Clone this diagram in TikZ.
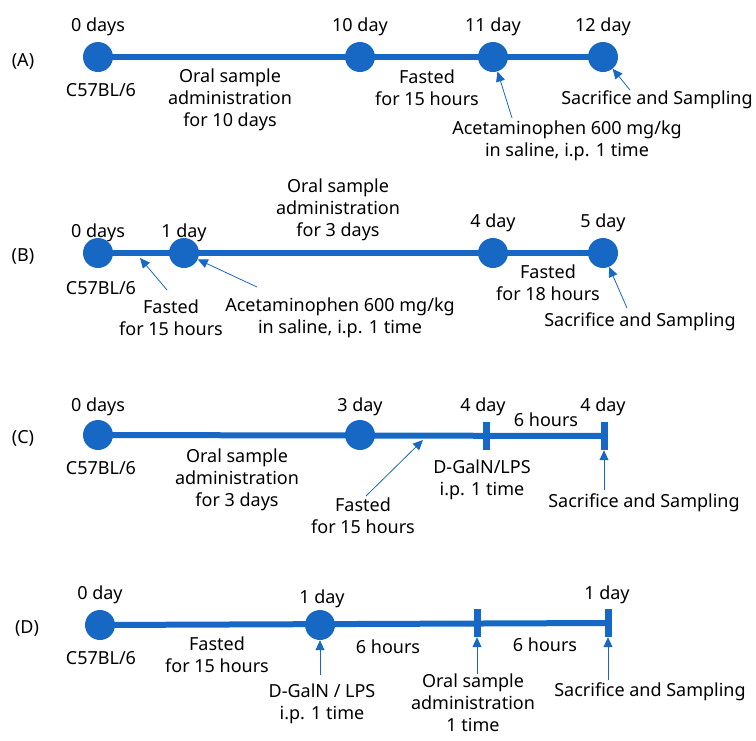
\documentclass[tikz,border=0pt]{standalone}
\usepackage{fontspec}
\setmainfont{Noto Sans}
\usetikzlibrary{arrows.meta}
\definecolor{tlblue}{RGB}{22,104,196}
\tikzset{
  dot/.style={circle,fill=tlblue,inner sep=0pt,minimum size=30pt},
  tickbar/.style={rectangle,fill=tlblue,inner sep=0pt,minimum width=7pt,minimum height=28pt},
  tl/.style={draw=tlblue,line width=6pt},
  ptr/.style={draw=tlblue,line width=0.8pt,-{Triangle[length=10pt,width=9pt]}},
  lbl/.style={align=center,inner sep=0pt,font=\fontsize{18}{22}\selectfont},
}
\begin{document}
\begin{tikzpicture}[x=1pt,y=-1pt]
    \useasboundingbox (0,0) rectangle (756,740);

    % (A) acetaminophen, 12 days
    \node[lbl] (pA) at (23,61) {(A)};
    \foreach \x/\n/\t in {98/A0/0 days,360/A10/10 day,493/A11/11 day,603/A12/12 day}{
        \node[dot] (\n) at (\x,57) {};
        \node[lbl] (\n-d) at (\x,27) {\t};
    }
    \draw[tl] (A0.center) -- (A12.center);
    \node[lbl] (mouseA) at (101,90) {C57BL/6};
    \node[lbl] (oralA) at (230,100) {Oral sample\\administration\\for 10 days};
    \node[lbl] (fastA) at (427,88) {Fasted\\for 15 hours};
    \node[lbl] (acetA) at (567,141) {Acetaminophen 600 mg/kg\\in saline, i.p. 1 time};
    \node[lbl] (sacA) at (657,100) {Sacrifice and Sampling};
    \coordinate (acetA-s) at (512,118);
    \coordinate (sacA-s) at (630,90);
    \draw[ptr] (acetA-s) -- (A11);
    \draw[ptr] (sacA-s) -- (A12);

    % (B) acetaminophen, 5 days
    \node[lbl] (pB) at (23,256) {(B)};
    \foreach \x/\n/\t/\y in {98/B0/0 days/233,184/B1/1 day/233,493/B4/4 day/223,603/B5/5 day/223}{
        \node[dot] (\n) at (\x,253) {};
        \node[lbl] (\n-d) at (\x,\y) {\t};
    }
    \draw[tl] (B0.center) -- (B5.center);
    \node[lbl] (mouseB) at (101,288) {C57BL/6};
    \node[lbl] (oralB) at (338,210) {Oral sample\\administration\\for 3 days};
    \node[lbl] (fastB) at (171,318) {Fasted\\for 15 hours};
    \node[lbl] (acetB) at (340,318) {Acetaminophen 600 mg/kg\\in saline, i.p. 1 time};
    \node[lbl] (fast2B) at (548,283) {Fasted\\for 18 hours};
    \node[lbl] (sacB) at (640,322) {Sacrifice and Sampling};
    \coordinate (fastB-s) at (167,290);
    \coordinate (fastB-e) at (140,258);
    \coordinate (acetB-s) at (257,287);
    \coordinate (sacB-s) at (627,308);
    \draw[ptr] (fastB-s) -- (fastB-e);
    \draw[ptr] (acetB-s) -- (B1);
    \draw[ptr] (sacB-s) -- (B5);

    % (C) D-GalN/LPS after 3 days
    \node[lbl] (pC) at (23,438) {(C)};
    \node[dot] (C0) at (98,435) {};
    \node[dot] (C3) at (360,435) {};
    \node[tickbar] (C4) at (486,436) {};
    \node[tickbar] (C4b) at (604,436) {};
    \draw[tl] (C0.center) -- (C4b.center);
    \node[lbl] (C0-d) at (98,407) {0 days};
    \node[lbl] (C3-d) at (360,407) {3 day};
    \node[lbl] (C4-d) at (483,407) {4 day};
    \node[lbl] (C4b-d) at (603,407) {4 day};
    \node[lbl] (hrsC) at (546,420) {6 hours};
    \node[lbl] (mouseC) at (101,468) {C57BL/6};
    \node[lbl] (oralC) at (237,480) {Oral sample\\administration\\for 3 days};
    \node[lbl] (fastC) at (363,516) {Fasted\\for 15 hours};
    \node[lbl] (galC) at (482,480) {D-GalN/LPS\\i.p. 1 time};
    \node[lbl] (sacC) at (644,503) {Sacrifice and Sampling};
    \coordinate (fastC-s) at (366,496);
    \coordinate (fastC-e) at (423,440);
    \coordinate (sacC-s) at (604,490);
    \draw[ptr] (fastC-s) -- (fastC-e);
    \draw[ptr] (sacC-s) -- (C4b);

    % (D) D-GalN/LPS then oral sample
    \node[lbl] (pD) at (27,628) {(D)};
    \node[dot] (D0) at (100,625) {};
    \node[dot] (D1) at (320,625) {};
    \node[tickbar] (D6) at (477,623) {};
    \node[tickbar] (D12) at (608,623) {};
    \draw[tl] (D0.center) -- (D12.center);
    \node[lbl] (D0-d) at (100,595) {0 day};
    \node[lbl] (D1-d) at (322,599) {1 day};
    \node[lbl] (D12-d) at (607,595) {1 day};
    \node[lbl] (mouseD) at (101,658) {C57BL/6};
    \node[lbl] (fastD) at (217,655) {Fasted\\for 15 hours};
    \node[lbl] (hrsD) at (388,647) {6 hours};
    \node[lbl] (hrs2D) at (545,645) {6 hours};
    \node[lbl] (galD) at (322,704) {D-GalN / LPS\\i.p. 1 time};
    \node[lbl] (oralD) at (473,703) {Oral sample\\administration\\1 time};
    \node[lbl] (sacD) at (650,692) {Sacrifice and Sampling};
    \coordinate (galD-s) at (320,675);
    \coordinate (oralD-s) at (477,674);
    \coordinate (sacD-s) at (608,680);
    \draw[ptr] (galD-s) -- (D1);
    \draw[ptr] (oralD-s) -- (D6);
    \draw[ptr] (sacD-s) -- (D12);
\end{tikzpicture}
\end{document}
